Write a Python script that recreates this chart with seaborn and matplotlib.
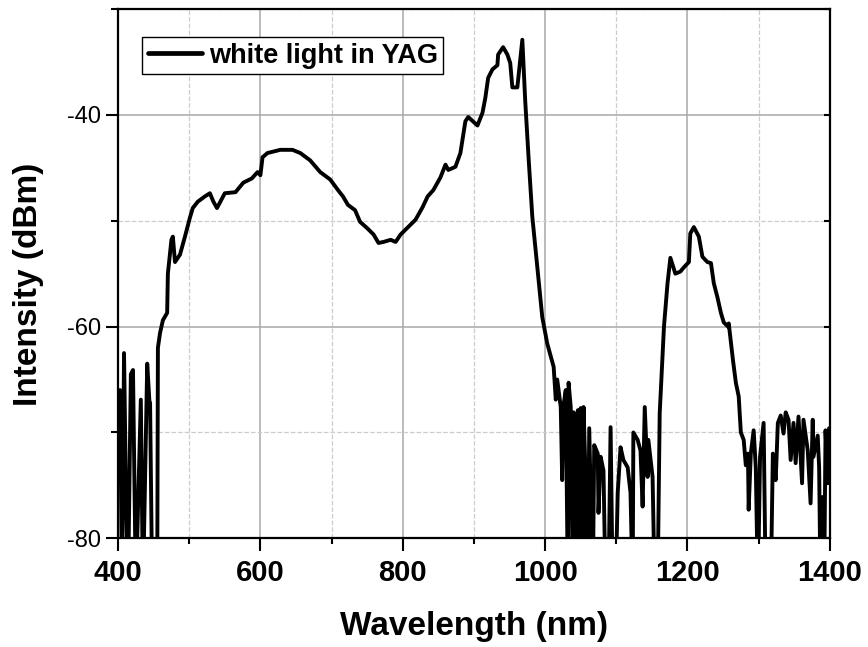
import numpy as np
import pandas as pd
import seaborn as sns
import matplotlib
matplotlib.use("Agg")
import matplotlib.pyplot as plt
from matplotlib.ticker import MultipleLocator

# spectrum (values below -80 are clipped by the axis)
wavelength = [400, 402.8, 405.6, 408.4, 411, 414, 418, 421, 425, 432, 435, 441, 444, 445, 448, 452,
              455, 456, 459, 463, 469, 470, 475, 477, 480, 487, 494, 501, 505, 512, 522, 529, 534,
              539, 550, 565, 576, 588, 596, 600, 603, 610, 628, 645, 656, 670, 684, 698, 709, 716,
              723, 733, 740, 750, 759, 766, 773, 783, 790, 797, 806, 818, 828, 835, 843, 853, 860,
              864, 874, 881, 888, 892, 905, 912, 916, 920, 926, 933, 934, 941, 947, 951, 954, 961,
              964, 968, 972, 977, 982, 989, 996, 1003, 1012, 1015, 1017, 1022, 1024, 1026, 1029,
              1032, 1033, 1036, 1039, 1040, 1043, 1046, 1048, 1050, 1053, 1054, 1057, 1060, 1062,
              1067, 1069, 1074, 1075, 1078, 1082, 1085, 1089, 1092, 1095, 1099, 1102, 1106, 1110,
              1116, 1120, 1123, 1124, 1130, 1134, 1137, 1140, 1144, 1145, 1151, 1154, 1158, 1161,
              1167, 1172, 1176, 1183, 1190, 1195, 1202, 1204, 1209, 1216, 1221, 1228, 1233, 1237,
              1242, 1247, 1251, 1257, 1258, 1264, 1268, 1272, 1275, 1279, 1282, 1285, 1286, 1289,
              1293, 1296, 1299, 1302, 1307, 1310, 1317, 1320, 1324, 1327, 1331, 1335, 1338, 1342,
              1345, 1349, 1352, 1356, 1361, 1363, 1369, 1373, 1376, 1377, 1383, 1385, 1387, 1390,
              1392, 1394, 1397, 1399]
intensity = [-70, -66, -85, -62.5, -75, -85, -64.5, -64.1, -85, -66.9, -85, -63.5, -67, -67.2, -85, -85,
             -85, -62, -60.6, -59.4, -58.7, -55, -51.8, -51.5, -53.9, -53.2, -51.5, -49.7, -48.8, -48.2, -47.7, -47.4, -48.2,
             -48.8, -47.4, -47.3, -46.4, -46.0, -45.4, -45.7, -44.0, -43.6, -43.3, -43.3, -43.6, -44.3, -45.4, -46.1, -47.1, -47.7,
             -48.5, -49.0, -50.1, -50.7, -51.3, -52.1, -52.0, -51.8, -52.0, -51.3, -50.7, -49.9, -48.7, -47.7, -47.1, -45.9, -44.7,
             -45.2, -44.9, -43.6, -40.6, -40.2, -41.0, -39.8, -38.4, -36.5, -35.7, -35.3, -34.3, -33.6, -34.3, -35.1, -37.4, -37.4,
             -35.5, -32.9, -38.6, -44.3, -49.6, -54.4, -59.1, -61.6, -63.8, -66.9, -65.0, -67.6, -74.5, -67.4, -66.0,
             -85, -65.3, -67.6, -85, -68.1, -85, -67.9, -85, -67.7, -85, -67.6, -74.5, -85, -69.6,
             -85, -71.2, -72.0, -77.6, -72.3, -73.6, -85, -85, -69.5, -85, -85, -75.7, -71.4, -72.6,
             -73.3, -75.7, -85, -70.0, -70.7, -71.7, -77.0, -67.6, -74.2, -70.7, -74.2, -85, -85, -68.2,
             -60.0, -55.9, -53.5, -55.0, -54.8, -54.4, -53.9, -51.2, -50.6, -51.5, -53.4, -53.9, -54.0, -55.9,
             -57.2, -58.7, -59.6, -60.0, -59.7, -63.2, -65.3, -66.6, -70.0, -70.7, -73.1, -72.0, -77.3, -72.0,
             -69.8, -73.3, -85, -72.3, -69.1, -85, -85, -72.0, -74.5, -69.1, -68.4, -70.1, -68.1, -68.8,
             -72.6, -69.1, -72.9, -68.5, -74.8, -68.8, -71.7, -76.7, -68.8, -72.3, -70.3, -73.3, -85, -76.1,
             -85, -69.8, -74.8, -69.6]
series_name = "white light in YAG"

df = pd.DataFrame({"Wavelength": wavelength, "Intensity": intensity})

sns.set_style("ticks")
plt.rcParams["font.family"] = ["Liberation Sans", "DejaVu Sans"]
plt.rcParams["axes.unicode_minus"] = False
plt.rcParams["text.color"] = "black"
plt.rcParams["axes.labelcolor"] = "black"
plt.rcParams["xtick.color"] = "black"
plt.rcParams["ytick.color"] = "black"

fig = plt.figure(figsize=(8.68, 6.47), dpi=100)
ax = fig.add_axes([0.136, 0.168, 0.820, 0.818])

sns.lineplot(data=df, x="Wavelength", y="Intensity", color="black", linewidth=2.8,
             label=series_name, ax=ax, sort=False)

ax.set_xlim(400, 1400)
ax.set_ylim(-80, -30)
ax.xaxis.set_major_locator(MultipleLocator(200))
ax.xaxis.set_minor_locator(MultipleLocator(100))
ax.yaxis.set_major_locator(MultipleLocator(20))
ax.yaxis.set_minor_locator(MultipleLocator(10))

ax.grid(which="major", color="#a8a8a8", linestyle="-", linewidth=1.1)
ax.grid(which="minor", color="#cccccc", linestyle="--", linewidth=0.9)
ax.set_axisbelow(True)

for s in ax.spines.values():
    s.set_linewidth(1.6)
    s.set_color("black")

ax.tick_params(axis="x", which="major", direction="out", length=9, width=1.5,
               labelsize=21, pad=6)
ax.tick_params(axis="x", which="minor", direction="out", length=4.5, width=1.5)
ax.tick_params(axis="y", which="major", direction="out", length=9, width=1.5,
               labelsize=17, pad=3, right=True)
ax.tick_params(axis="y", which="minor", direction="out", length=5, width=1.5, right=True)
for lab in ax.get_xticklabels():
    lab.set_fontweight("bold")
# ticks on the right spine point inward
for t in ax.yaxis.get_major_ticks() + ax.yaxis.get_minor_ticks():
    t.tick2line.set_marker(matplotlib.lines.TICKLEFT)
    t.tick2line.set_markersize(4)

ax.set_xlabel("Wavelength (nm)", fontsize=24, fontweight="bold")
ax.set_ylabel("Intensity (dBm)", fontsize=24, fontweight="bold")
ax.xaxis.set_label_coords(0.5, -0.138)
ax.yaxis.set_label_coords(-0.104, 0.48)

leg = ax.legend(loc="upper left", bbox_to_anchor=(0.034, 0.947), borderaxespad=0,
                frameon=True, fancybox=False, framealpha=1, edgecolor="black",
                prop={"size": 19.5, "weight": "bold"}, handlelength=2.0,
                handletextpad=0.25, borderpad=0.2)
leg.get_frame().set_linewidth(1.0)
for h in leg.get_lines():
    h.set_linewidth(3.4)

fig.savefig("out.png", dpi=100)
